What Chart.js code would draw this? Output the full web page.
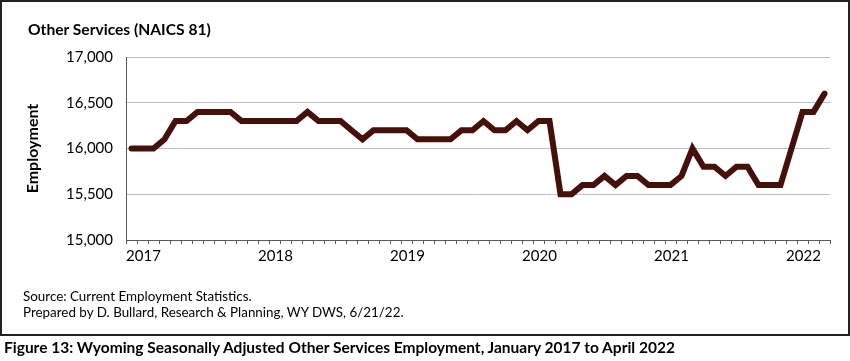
<!DOCTYPE html>
<html>
<head>
<meta charset="utf-8">
<script src="https://cdn.jsdelivr.net/npm/chart.js@4/dist/chart.umd.min.js"></script>
<style>
  body { margin: 0; width: 850px; height: 361px; background: #fff; position: relative; overflow: hidden; font-family: Lato, sans-serif; color: #000; }
  #frame { position: absolute; left: 0; top: 0; width: 850px; height: 336px; border: 2px solid #222; box-sizing: border-box; }
  #wrap { position: absolute; left: 0; top: 0; width: 850px; height: 361px; }
  .txt { position: absolute; white-space: nowrap; }
  #title { left: 28px; top: 20px; font-size: 15.6px; font-weight: bold; }
  #src { left: 23px; top: 288px; font-size: 13.4px; line-height: 16px; }
  #caption { left: 4px; top: 338px; font-size: 15.5px; font-weight: bold; }
</style>
</head>
<body>
<div id="frame"></div>
<div id="wrap"><canvas id="chart" width="850" height="361"></canvas></div>
<div class="txt" id="title">Other Services (NAICS 81)</div>
<div class="txt" id="src">Source: Current Employment Statistics.<br>Prepared by D. Bullard, Research &amp; Planning, WY DWS, 6/21/22.</div>
<div class="txt" id="caption">Figure 13: Wyoming Seasonally Adjusted Other Services Employment, January 2017 to April 2022</div>
<script>
// monthly categories, Jan 2017 - Apr 2022
var months = [
  '2017-01','2017-02','2017-03','2017-04','2017-05','2017-06','2017-07','2017-08','2017-09','2017-10','2017-11','2017-12',
  '2018-01','2018-02','2018-03','2018-04','2018-05','2018-06','2018-07','2018-08','2018-09','2018-10','2018-11','2018-12',
  '2019-01','2019-02','2019-03','2019-04','2019-05','2019-06','2019-07','2019-08','2019-09','2019-10','2019-11','2019-12',
  '2020-01','2020-02','2020-03','2020-04','2020-05','2020-06','2020-07','2020-08','2020-09','2020-10','2020-11','2020-12',
  '2021-01','2021-02','2021-03','2021-04','2021-05','2021-06','2021-07','2021-08','2021-09','2021-10','2021-11','2021-12',
  '2022-01','2022-02','2022-03','2022-04'
];

// employment, seasonally adjusted
var employment = [
  16000,16000,16000,16100,16300,16300,16400,16400,16400,16400,16300,16300,
  16300,16300,16300,16300,16400,16300,16300,16300,16200,16100,16200,16200,
  16200,16200,16100,16100,16100,16100,16200,16200,16300,16200,16200,16300,
  16200,16300,16300,15500,15500,15600,15600,15700,15600,15700,15700,15600,
  15600,15600,15700,16000,15800,15800,15700,15800,15800,15600,15600,15600,
  16000,16400,16400,16600
];

var yTicks = [15000, 15500, 16000, 16500, 17000];

var font = 'Lato, sans-serif';

var ctx = document.getElementById('chart');
var chart = new Chart(ctx, {
  type: 'line',
  data: {
    labels: months,
    datasets: [
      {
        data: employment,
        borderColor: '#45100a',
        borderWidth: 6,
        pointRadius: 0,
        tension: 0,
        borderJoinStyle: 'miter',
        borderCapStyle: 'round'
      },
      {
        data: employment,
        borderColor: '#741e13',
        borderWidth: 4,
        pointRadius: 0,
        tension: 0,
        borderJoinStyle: 'miter',
        borderCapStyle: 'round'
      }
    ]
  },
  options: {
    responsive: false,
    animation: false,
    events: [],
    layout: { padding: { left: 0, top: 57, right: 20, bottom: 0 } },
    plugins: { legend: { display: false }, tooltip: { enabled: false } },
    scales: {
      x: {
        offset: true,
        grid: { offset: true, drawOnChartArea: false, drawTicks: true, tickLength: 4, color: '#595959' },
        border: { color: '#595959', width: 1 },
        ticks: {
          autoSkip: false,
          maxRotation: 0,
          labelOffset: 12,
          padding: 3,
          color: '#000',
          font: { family: font, size: 15 },
          callback: function(val, i) {
            var m = months[i];
            return m.slice(5) === '01' ? m.slice(0, 4) : '';
          }
        },
        afterFit: function(scale) { scale.height = 121; }
      },
      y: {
        min: 15000,
        max: 17000,
        afterBuildTicks: function(scale) { scale.ticks = yTicks.map(function(v) { return { value: v }; }); },
        grid: { color: '#bfbfbf', drawTicks: false },
        border: { color: '#595959', width: 1 },
        ticks: {
          padding: 13,
          color: '#000',
          font: { family: font, size: 15 },
          callback: function(v) { return v.toLocaleString('en-US'); }
        },
        title: {
          display: true,
          text: 'Employment',
          color: '#000',
          font: { family: font, size: 16, weight: 'bold' },
          padding: { top: 23, bottom: 0 }
        },
        afterFit: function(scale) { scale.width = 126; }
      }
    }
  }
});
</script>
</body>
</html>
